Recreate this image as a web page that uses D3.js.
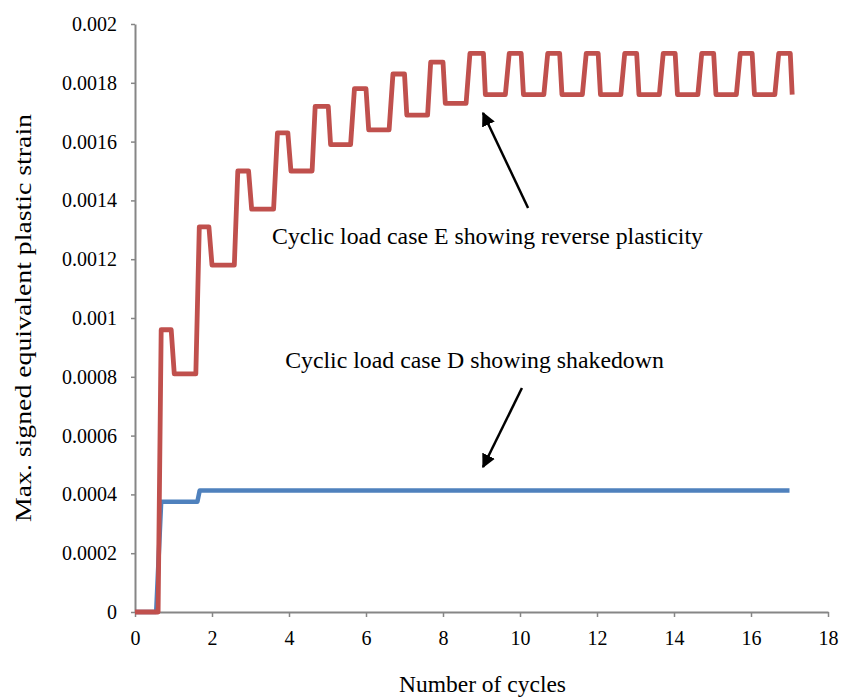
<!DOCTYPE html>
<html>
<head>
<meta charset="utf-8">
<script src="https://cdn.jsdelivr.net/npm/d3@7"></script>
<style>
  body { margin: 0; background: #fff; }
  svg { display: block; }
  text { font-family: "Liberation Serif", "Times New Roman", serif; fill: #000; }
</style>
</head>
<body>
<div id="chart"></div>
<script>
// load case D (shakedown) - [cycles, strain]
const caseD = [
    [0, 0], [0.55, 0], [0.68, 0.000375], [1.62, 0.000375],
    [1.68, 0.000413], [17, 0.000413]
];

// load case E (reverse plasticity) - [cycles, strain]
const caseE = [
    [0, 0], [0.6, 0], [0.68, 0.00096], [0.94, 0.00096], [1.02, 0.00081],
    [1.58, 0.00081], [1.67, 0.00131], [1.92, 0.00131], [2.0, 0.00118],
    [2.58, 0.00118], [2.67, 0.0015], [2.95, 0.0015], [3.03, 0.00137],
    [3.6, 0.00137], [3.7, 0.00163], [3.97, 0.00163], [4.05, 0.0015],
    [4.6, 0.0015], [4.68, 0.00172], [5.02, 0.00172], [5.08, 0.00159],
    [5.6, 0.00159], [5.7, 0.00178], [6.0, 0.00178], [6.07, 0.00164],
    [6.6, 0.00164], [6.7, 0.00183], [7.0, 0.00183], [7.06, 0.00169],
    [7.6, 0.00169], [7.68, 0.00187], [8.0, 0.00187], [8.06, 0.00173],
    [8.6, 0.00173], [8.7, 0.0019], [9.05, 0.0019], [9.1, 0.00176],
    [9.62, 0.00176], [9.72, 0.0019], [10.03, 0.0019], [10.09, 0.00176],
    [10.62, 0.00176], [10.72, 0.0019], [11.03, 0.0019], [11.09, 0.00176],
    [11.62, 0.00176], [11.72, 0.0019], [12.03, 0.0019], [12.09, 0.00176],
    [12.62, 0.00176], [12.72, 0.0019], [13.03, 0.0019], [13.09, 0.00176],
    [13.62, 0.00176], [13.72, 0.0019], [14.03, 0.0019], [14.09, 0.00176],
    [14.62, 0.00176], [14.72, 0.0019], [15.03, 0.0019], [15.09, 0.00176],
    [15.62, 0.00176], [15.72, 0.0019], [16.03, 0.0019], [16.09, 0.00176],
    [16.62, 0.00176], [16.72, 0.0019], [17.02, 0.0019], [17.07, 0.00176]
];

const xTicks = [0, 2, 4, 6, 8, 10, 12, 14, 16, 18];
const yTicks = [0, 0.0002, 0.0004, 0.0006, 0.0008, 0.001, 0.0012, 0.0014, 0.0016, 0.0018, 0.002];

// annotations: text anchor and arrow tail/tip, in data units
const notes = [
    { text: "Cyclic load case E showing reverse plasticity", x: 3.56, y: 0.001252,
      from: [10.21, 0.001374], to: [9.04, 0.001697] },
    { text: "Cyclic load case D showing shakedown", x: 3.9, y: 0.00083,
      from: [10.05, 0.000762], to: [9.04, 0.000493] }
];

const width = 859;
const height = 698;
const margin = { top: 24, right: 31, bottom: 86, left: 135 };
const serif = "'Liberation Serif', 'Times New Roman', serif";

const svg = d3.select("#chart").append("svg")
              .attr("width", width)
              .attr("height", height);

svg.append("rect")
   .attr("width", width)
   .attr("height", height)
   .attr("fill", "#fff");

const x = d3.scaleLinear()
            .domain([0, 18])
            .range([margin.left, width - margin.right]);

const y = d3.scaleLinear()
            .domain([0, 0.002])
            .range([height - margin.bottom, margin.top]);

const defs = svg.append("defs");
defs.append("marker")
    .attr("id", "arrowhead")
    .attr("viewBox", "0 0 10 10")
    .attr("refX", 9)
    .attr("refY", 5)
    .attr("markerUnits", "userSpaceOnUse")
    .attr("markerWidth", 14)
    .attr("markerHeight", 14)
    .attr("orient", "auto")
    .append("path")
    .attr("d", "M0,0 L10,5 L0,10 Z")
    .attr("fill", "#000");

// axes
const yAxis = svg.append("g")
                 .attr("transform", `translate(${margin.left},0)`)
                 .call(d3.axisLeft(y)
                         .tickValues(yTicks)
                         .tickSize(4)
                         .tickSizeOuter(0)
                         .tickPadding(14)
                         .tickFormat(d3.format("~g")));

const xAxis = svg.append("g")
                 .attr("transform", `translate(0,${height - margin.bottom})`)
                 .call(d3.axisBottom(x)
                         .tickValues(xTicks)
                         .tickSize(5)
                         .tickSizeOuter(0)
                         .tickPadding(14));

[xAxis, yAxis].forEach(a => {
    a.attr("font-family", serif).attr("font-size", 20);
    a.select(".domain").attr("stroke", "#868686").attr("stroke-width", 2);
    a.selectAll(".tick line").attr("stroke", "#868686").attr("stroke-width", 1.5);
    a.selectAll(".tick text")
     .attr("font-family", serif)
     .attr("font-size", 20)
     .attr("fill", "#000");
});

// series
const line = d3.line()
               .x(d => x(d[0]))
               .y(d => y(d[1]));

svg.append("path")
   .datum(caseD)
   .attr("d", line)
   .attr("fill", "none")
   .attr("stroke", "#4F81BD")
   .attr("stroke-width", 4.5)
   .attr("stroke-linejoin", "round");

svg.append("path")
   .datum(caseE)
   .attr("d", line)
   .attr("fill", "none")
   .attr("stroke", "#C0504D")
   .attr("stroke-width", 4.8)
   .attr("stroke-linejoin", "round");

// annotations
notes.forEach(n => {
    svg.append("text")
       .attr("x", x(n.x))
       .attr("y", y(n.y))
       .style("font-size", "23.8px")
       .text(n.text);

    svg.append("line")
       .attr("x1", x(n.from[0]))
       .attr("y1", y(n.from[1]))
       .attr("x2", x(n.to[0]))
       .attr("y2", y(n.to[1]))
       .attr("stroke", "#000")
       .attr("stroke-width", 2.5)
       .attr("marker-end", "url(#arrowhead)");
});

// axis titles
svg.append("text")
   .attr("x", (margin.left + width - margin.right) / 2 + 1)
   .attr("y", 692)
   .attr("text-anchor", "middle")
   .style("font-size", "23.5px")
   .text("Number of cycles");

svg.append("text")
   .attr("transform", `translate(31,${(margin.top + height - margin.bottom) / 2}) rotate(-90)`)
   .attr("text-anchor", "middle")
   .attr("textLength", 408)
   .attr("lengthAdjust", "spacingAndGlyphs")
   .style("font-size", "24px")
   .text("Max. signed equivalent plastic strain");
</script>
</body>
</html>
